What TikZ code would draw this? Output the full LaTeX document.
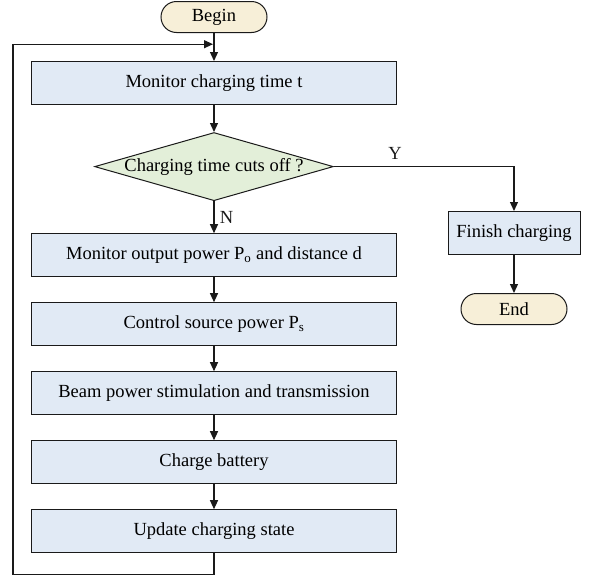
\documentclass[tikz,border=0pt]{standalone}
\usepackage{fontspec}
\setmainfont{Liberation Serif}
\usetikzlibrary{arrows.meta, positioning, shapes.geometric, shapes.misc, calc}
\definecolor{flowBlue}{HTML}{E1EAF5}
\definecolor{flowGreen}{HTML}{E3EFD9}
\definecolor{flowSand}{HTML}{F7EFD8}
\definecolor{flowLine}{HTML}{1A1A1A}
\tikzset{
  arrowK/.style={-{Triangle[length=9pt, width=8pt]}, flowLine, line width=1.2pt},
  boxStep/.style={rectangle, draw=flowLine, fill=flowBlue, line width=1pt,
                  align=center, minimum width=365pt, minimum height=43pt, inner sep=2pt},
  boxDec/.style={diamond, draw=flowLine, fill=flowGreen, line width=1pt,
                 shape aspect=3.5, inner sep=0pt, align=center},
  boxTerm/.style={rounded rectangle, draw=flowLine, fill=flowSand, line width=1pt,
                  minimum width=110pt, minimum height=31pt, inner sep=2pt},
}

\begin{document}
\begin{tikzpicture}[font=\fontsize{18.5}{22}\selectfont, node distance=25pt]
    \useasboundingbox (0,0) rectangle (590pt,-576pt);
    \node[boxTerm] (begin) at (214pt,-17pt) {Begin};
    \node[boxStep, below=28pt of begin] (mon) {Monitor charging time t};
    \node[boxDec, below=27pt of mon] (dec) {Charging time cuts off ?};
    \node[boxStep, below=32pt of dec] (out) {Monitor output power P\textsubscript{o} and distance d};
    \node[boxStep, below=of out] (ctrl) {Control source power P\textsubscript{s}};
    \node[boxStep, below=of ctrl] (beam) {Beam power stimulation and transmission};
    \node[boxStep, below=of beam] (batt) {Charge battery};
    \node[boxStep, below=of batt] (upd) {Update charging state};
    \node[boxStep, minimum width=132pt] (fin) at (514pt,-233pt) {Finish charging};
    \node[boxTerm, below=38pt of fin] (end) {End};
    \coordinate (merge) at ($(begin.south)!0.4!(mon.north)$);
    \coordinate (loop) at ([xshift=-18pt, yshift=-21pt]upd.south west);
    \draw[arrowK] (begin) -- (mon);
    \draw[arrowK] (mon) -- (dec);
    \draw[arrowK] (dec) -- node[right=2pt] {N} (out);
    \draw[arrowK] (out) -- (ctrl); \draw[arrowK] (ctrl) -- (beam);
    \draw[arrowK] (beam) -- (batt); \draw[arrowK] (batt) -- (upd);
    \draw[arrowK] (dec.east) -| node[pos=0.17, above=3pt] {Y} (fin.north);
    \draw[arrowK] (fin) -- (end);
    \draw[arrowK] (upd.south) |- (loop) |- ([xshift=-1pt]merge);
  \end{tikzpicture}
\end{document}
